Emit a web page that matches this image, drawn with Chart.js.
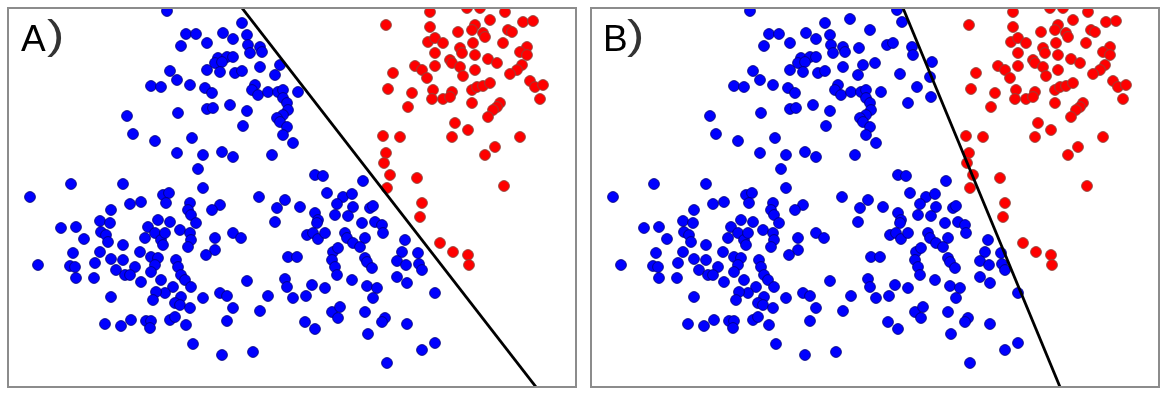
<!DOCTYPE html>
<html>
<head>
<meta charset="utf-8">
<script src="https://cdn.jsdelivr.net/npm/chart.js@4"></script>
<style>
  html,body{margin:0;padding:0;background:#fff;width:1170px;height:397px;overflow:hidden;}
  .panel{position:absolute;top:7px;width:566px;height:377px;border:2px solid #8c8c8c;background:#fff;}
  .panel canvas{display:block;}
  .lbl{position:absolute;font-family:"Liberation Sans",Arial,sans-serif;color:#000;white-space:pre;}
  .letter{font-size:37px;line-height:37px;top:20px;}
  .paren{font-size:40px;line-height:40px;top:15px;color:#333;transform:scaleX(1.3);transform-origin:left top;}
</style>
</head>
<body>
<div class="panel" id="pA" style="left:7px;"><canvas id="cA" width="566" height="377"></canvas></div>
<div class="panel" id="pB" style="left:590px;"><canvas id="cB" width="566" height="377"></canvas></div>
<span class="lbl letter" style="left:21px;">A</span><span class="lbl paren" style="left:47px;">)</span>
<span class="lbl letter" style="left:603px;">B</span><span class="lbl paren" style="left:627px;">)</span>
<script>
// Values (arbitrary units, y grows downward)
const blueCommon = [
[167,11],[186,34],[196,34],[181,46],[207,43],[170,71],[177,80],[151,86],[161,87],[190,85],[205,88],[207,70],[207,109],[127,116],[178,113],[133,134],[155,141],[192,138],[177,153],[203,155],[198,169],[71,184],[123,184],[30,197],[163,195],[169,193],[203,188],
[242,23],[223,33],[233,39],[247,35],[248,45],[260,47],[262,52],[250,53],[218,58],[227,57],[233,57],[215,63],[222,62],[220,72],[235,73],[242,71],[260,67],[280,65],[275,75],[212,93],[255,85],[252,90],[258,95],[268,92],[278,92],[283,90],[298,92],[283,98],[287,103],[213,108],[230,105],[247,111],[288,110],[283,115],[277,118],[280,122],[243,126],[287,127],[283,135],[293,143],[222,152],[233,157],[272,155],[315,175],[323,176],[363,181],[327,193],[343,197],[352,194],
[166,203],[130,204],[141,202],[190,203],[188,210],[191,215],[111,210],[100,221],[110,223],[61,228],[76,227],[84,239],[101,232],[106,235],[108,242],[148,227],[158,220],[170,222],[196,223],[145,238],[155,233],[161,240],[165,233],[163,245],[180,230],[190,233],[191,240],[188,247],[123,245],[73,253],[70,266],[75,267],[38,265],[100,252],[95,263],[111,259],[116,270],[123,260],[140,252],[135,267],[151,257],[158,258],[155,265],[151,272],[176,260],[178,267],[125,275],[130,275],[76,278],[94,278],[141,282],[161,280],[181,275],[185,280],[191,287],[173,287],[165,293],[156,292],[153,300],[181,297],[175,303],[180,305],[190,308],[203,298],[111,297],[105,324],[121,326],[131,320],[146,321],[151,321],[150,328],[170,320],[175,317],[186,325],[193,344],
[259,197],[285,200],[277,208],[300,207],[337,204],[335,215],[353,207],[348,216],[370,208],[373,206],[315,213],[318,220],[317,223],[220,205],[212,210],[275,222],[362,223],[375,222],[382,225],[383,233],[233,233],[241,238],[215,238],[307,235],[313,233],[318,239],[325,233],[345,233],[347,238],[353,243],[365,238],[360,247],[215,250],[206,255],[288,257],[297,257],[333,252],[332,260],[338,248],[365,258],[367,262],[372,268],[335,267],[337,275],[247,281],[285,279],[287,287],[293,298],[312,285],[325,288],[352,280],[367,286],[377,288],[373,298],[220,293],[227,296],[268,296],[306,296],[233,308],[260,311],[332,312],[340,307],[338,318],[365,312],[385,318],[382,322],[227,321],[305,322],[315,329],[368,334],[222,355],[253,352],[387,363],
[405,240],[402,252],[397,261],[406,265],[418,253],[419,264],[422,270],[397,277],[407,283],[435,293],[407,324],[435,343],[422,350]
];
const blueOnlyB = [
[267,19],[287,30],[276,48],[292,63],[304,45],[314,10],[319,22],[310,43],[329,47],[330,55],[349,62],[317,74],[347,77],[334,87],[348,97],[325,103]
];
const redPts = [
[430,12],[467,8],[480,8],[505,12],[386,25],[430,27],[475,25],[472,30],[490,20],[523,22],[533,21],[458,32],[483,33],[485,37],[508,30],[512,32],[428,42],[435,38],[443,43],[473,43],[503,43],[460,48],[462,53],[435,53],[475,55],[527,47],[520,52],[527,55],[450,60],[452,63],[488,59],[497,63],[415,66],[422,70],[427,78],[435,66],[460,67],[475,70],[463,76],[522,65],[517,70],[510,74],[393,73],[388,89],[412,93],[433,90],[452,92],[472,90],[477,87],[483,86],[490,83],[530,81],[535,87],[543,85],[432,99],[443,99],[450,97],[472,103],[540,99],[408,107],[500,103],[497,107],[493,110],[488,117],[455,123],[468,130],[452,137],[520,137],[383,136],[400,137],[495,147],[485,155],[386,153],[384,163],[390,175],[417,178],[504,186],[387,188],[422,203],[420,217],[440,243],[453,252],[468,255],[469,265]
];
const lineA = [[242,8],[536,387]];
const lineB = [[320,8],[477,387]];
const xRange = [9,575];
const yRange = [9,386];

function pts(arr){ return arr.map(p => ({x:p[0], y:p[1]})); }

function makeChart(id, blue, line){
  return new Chart(document.getElementById(id), {
    type: 'scatter',
    data: {
      datasets: [
        {type:'line', data: pts(line), borderColor:'#000', borderWidth:2.8, pointRadius:0, showLine:true, fill:false, order:0, clip:0},
        {data: pts(blue), backgroundColor:'#0000ff', borderColor:'rgba(0,0,120,0.85)', borderWidth:1, pointRadius:5.4, order:1, clip:0},
        {data: pts(redPts), backgroundColor:'#ff0000', borderColor:'rgba(140,70,60,0.9)', borderWidth:1, pointRadius:5.4, order:2, clip:0}
      ]
    },
    options: {
      responsive:false, animation:false, devicePixelRatio:1,
      layout:{padding:0, autoPadding:false},
      plugins:{legend:{display:false}, tooltip:{enabled:false}},
      events:[],
      scales:{
        x:{type:'linear', min:xRange[0], max:xRange[1], display:false},
        y:{type:'linear', min:yRange[0], max:yRange[1], reverse:true, display:false}
      }
    }
  });
}
makeChart('cA', blueCommon, lineA);
makeChart('cB', blueCommon.concat(blueOnlyB), lineB);
</script>
</body>
</html>
